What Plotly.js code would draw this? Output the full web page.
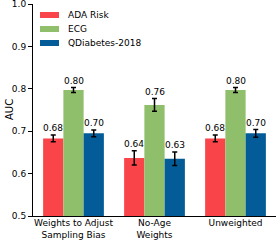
<!DOCTYPE html>
<html><head><meta charset="utf-8">
<script src="https://cdn.plot.ly/plotly-3.0.1.min.js"></script>
<style>html,body{margin:0;padding:0;background:#fff}#c{width:277px;height:240px}</style>
</head><body><div id="c"></div>
<script>
const categories = ["Weights to Adjust<br>Sampling Bias", "No-Age<br>Weights", "Unweighted"];
const seriesNames = ["ADA Risk", "ECG", "QDiabetes-2018"];
const adaRisk = [0.683, 0.637, 0.683];
const adaErr = [0.008, 0.017, 0.008];
const ecg = [0.797, 0.762, 0.797];
const ecgErr = [0.006, 0.015, 0.006];
const qdiab = [0.695, 0.635, 0.695];
const qdiabErr = [0.008, 0.016, 0.009];
const labelsAda = ["0.68", "0.64", "0.68"];
const labelsEcg = ["0.80", "0.76", "0.80"];
const labelsQd = ["0.70", "0.63", "0.70"];
const yTicks = [0.5, 0.6, 0.7, 0.8, 0.9, 1.0];
const colors = ["#f94449", "#90bf6b", "#035c97"];

const FONT = "DejaVu Sans";
const vals = [adaRisk, ecg, qdiab];
const errs = [adaErr, ecgErr, qdiabErr];
const labs = [labelsAda, labelsEcg, labelsQd];
const bargap = 0.25;
const bw = (1 - bargap) / 3;
const xs = categories.map((c, i) => i);

const traces = vals.map((v, k) => ({
  type: "bar", name: seriesNames[k], x: xs, y: v, showlegend: false,
  marker: {color: colors[k], line: {width: 0}},
  error_y: {type: "data", array: errs[k], visible: true, color: "#000", thickness: 1.5, width: 2.5}
}));

const annotations = [];
vals.forEach((v, k) => v.forEach((y, i) => {
  annotations.push({x: i + (k - 1) * bw, y: y + errs[k][i], xref: "x", yref: "y",
    text: labs[k][i], showarrow: false, yanchor: "bottom", yshift: 0,
    font: {family: FONT, size: 9, color: "#000"}});
}));

// custom legend (matplotlib style swatches)
const shapes = [];
seriesNames.forEach((name, k) => {
  const yc = -11 - 14 * k;
  shapes.push({type: "rect", xref: "paper", yref: "paper", xsizemode: "pixel", ysizemode: "pixel",
    xanchor: 0, yanchor: 1, x0: 7, x1: 26, y0: yc - 3, y1: yc + 3,
    fillcolor: colors[k], line: {width: 0}});
  annotations.push({xref: "paper", yref: "paper", x: 0, y: 1, xshift: 33, yshift: yc,
    xanchor: "left", yanchor: "middle", text: name, showarrow: false,
    font: {family: FONT, size: 9, color: "#000"}});
});

// y-axis title
annotations.push({xref: "paper", yref: "paper", x: 0, y: 0.5, xshift: -24, textangle: -90,
  xanchor: "center", yanchor: "middle", text: "AUC", showarrow: false,
  font: {family: FONT, size: 10, color: "#000"}});

const layout = {
  width: 277, height: 240,
  margin: {l: 33, r: 1, t: 4, b: 24},
  paper_bgcolor: "#fff", plot_bgcolor: "#fff",
  font: {family: FONT, size: 9, color: "#000"},
  barmode: "group", bargap: bargap, bargroupgap: 0,
  showlegend: false,
  xaxis: {range: [-0.5, 2.5], tickvals: xs, ticktext: categories, showline: true, linecolor: "#000", linewidth: 1,
    ticks: "", showgrid: false, zeroline: false, ticklabeloverflow: "allow", ticklabelstandoff: -2,
    tickfont: {family: FONT, size: 9}},
  yaxis: {range: [0.5, 1.0], tickvals: yTicks, ticktext: yTicks.map(t => t.toFixed(1)), showline: true, linecolor: "#000", linewidth: 1,
    ticks: "outside", ticklen: 4, tickcolor: "#000", showgrid: false, zeroline: false, ticklabeloverflow: "allow",
    tickfont: {family: FONT, size: 9}},
  shapes: shapes,
  annotations: annotations
};
Plotly.newPlot("c", traces, layout, {displayModeBar: false, staticPlot: true});
</script></body></html>
